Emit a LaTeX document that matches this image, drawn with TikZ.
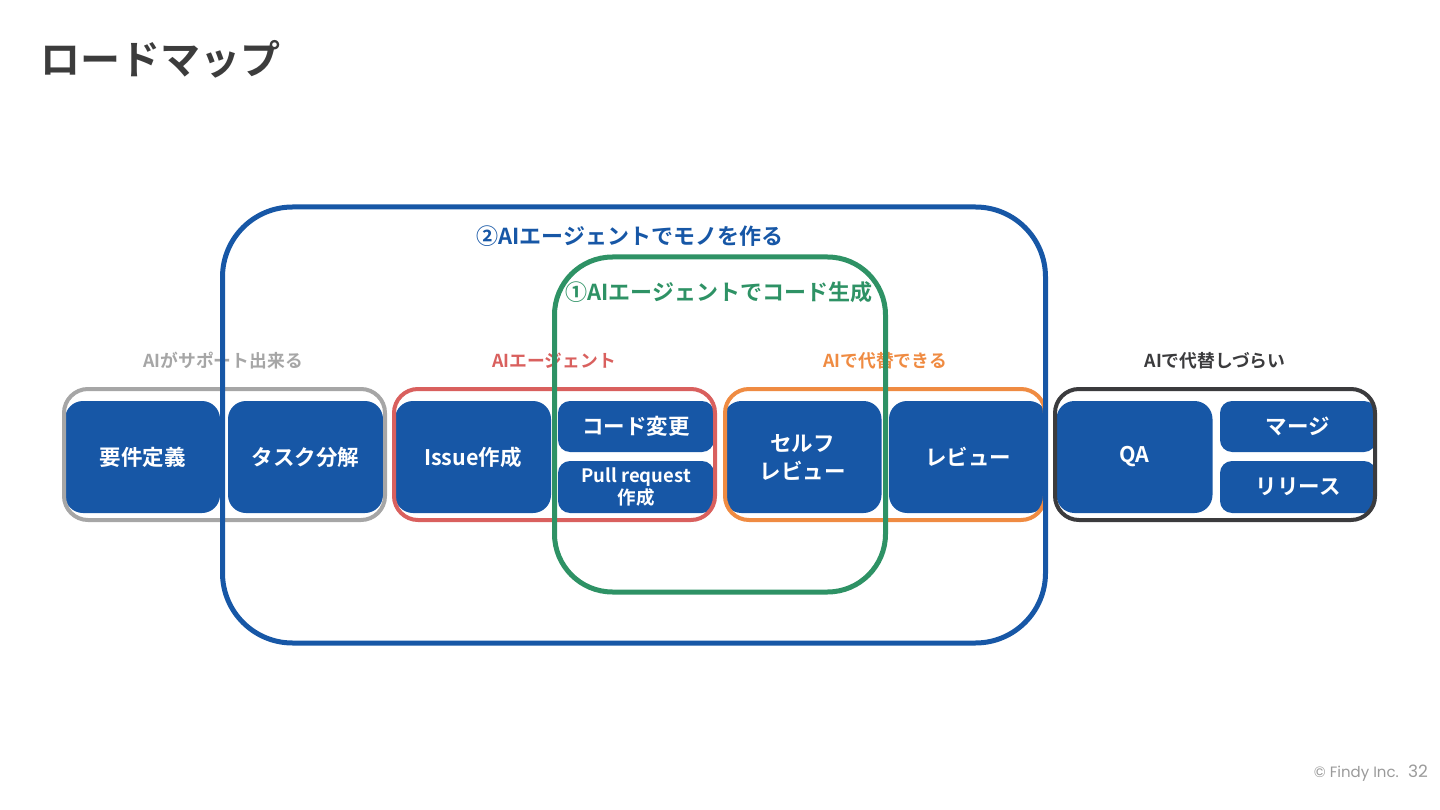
\documentclass[tikz,border=0pt]{standalone}
\usepackage{fontspec}
\setmainfont{Noto Sans CJK JP}[BoldFont={* Bold}]
\newfontfamily\jpb{Noto Sans CJK JP Bold}
\newfontfamily\footfont{Poppins}
\definecolor{cblue}{HTML}{1757A6}
\definecolor{cgreen}{HTML}{2E9265}
\definecolor{cred}{HTML}{D9605E}
\definecolor{corange}{HTML}{EF8B42}
\definecolor{cgray}{HTML}{A6A6A6}
\definecolor{cdark}{HTML}{3B3B3D}
\definecolor{ctitle}{HTML}{3C3C3C}
\definecolor{cfoot}{HTML}{9A9A9A}
\tikzset{
  stage/.style={fill=cblue, rounded corners=18pt, inner sep=0pt, text=white,
    font=\jpb\fontsize{21.5}{25}\selectfont, align=center},
  grp/.style={draw=#1, line width=4pt, rounded corners=24pt, inner sep=0pt},
  grplabel/.style={text=#1, font=\jpb\fontsize{17.8}{20}\selectfont, inner sep=0pt},
  bigframe/.style={draw=#1, line width=5pt, inner sep=0pt},
  biglabel/.style={text=#1, font=\jpb\fontsize{22}{26}\selectfont, inner sep=0pt}
}
\begin{document}
\begin{tikzpicture}[x=1pt,y=-1pt]
\useasboundingbox (0,0) rectangle (1440,810);
% title
\node[anchor=west, inner sep=0pt, text=ctitle, font=\jpb\fontsize{40}{46}\selectfont] (title) at (40,59) {ロードマップ};
% stage boxes
\node[stage, minimum width=155pt, minimum height=112pt] (req) at (142.5,457) {要件定義};
\node[stage, minimum width=155pt, minimum height=112pt] (task) at (305.5,457) {タスク分解};
\node[stage, minimum width=156pt, minimum height=112pt] (issue) at (473,457) {Issue作成};
\node[stage, minimum width=156pt, minimum height=51pt, rounded corners=12pt] (code) at (636,426.5) {コード変更};
\node[stage, minimum width=156pt, minimum height=52pt, rounded corners=12pt, font=\jpb\fontsize{18.5}{22}\selectfont] (pr) at (636,487) {Pull request\\作成};
\node[stage, minimum width=158pt, minimum height=112pt, font=\jpb\fontsize{21.5}{28}\selectfont] (self) at (802.5,457) {セルフ\\レビュー};
\node[stage, minimum width=158pt, minimum height=112pt] (review) at (968,457) {レビュー};
\node[stage, minimum width=156pt, minimum height=112pt] (qa) at (1134.5,457) {QA};
\node[stage, minimum width=156pt, minimum height=51pt, rounded corners=12pt] (merge) at (1298,426.5) {マージ};
\node[stage, minimum width=156pt, minimum height=52pt, rounded corners=12pt] (release) at (1298,487) {リリース};
% group frames
\node[grp=cgray, minimum width=321pt, minimum height=131pt] (gsup) at (224.5,454.5) {};
\node[grp=cred, minimum width=321pt, minimum height=131pt] (gagent) at (554.5,454.5) {};
\node[grp=corange, minimum width=320pt, minimum height=131pt] (galt) at (885,454.5) {};
\node[grp=cdark, minimum width=320pt, minimum height=131pt] (ghard) at (1215,454.5) {};
% group labels
\node[grplabel=cgray] (lsup) at (223,361) {AIがサポート出来る};
\node[grplabel=cred] (lagent) at (554,361) {AIエージェント};
\node[grplabel=corange] (lalt) at (885,361) {AIで代替できる};
\node[grplabel=cdark] (lhard) at (1215,361) {AIで代替しづらい};
% big frames
\node[bigframe=cblue, rounded corners=70pt, minimum width=823pt, minimum height=436pt] (fmake) at (634,425) {};
\node[bigframe=cgreen, rounded corners=58pt, minimum width=331pt, minimum height=335pt] (fcode) at (720,424.5) {};
\node[biglabel=cblue] (lmake) at (630,236) {②AIエージェントでモノを作る};
\node[biglabel=cgreen] (lcode) at (719,292) {①AIエージェントでコード生成};
% footer
\node[anchor=base east, inner sep=0pt, text=cfoot, font=\footfont\fontsize{15}{17}\selectfont] (foot) at (1399,777) {© Findy Inc.};
\node[anchor=base west, inner sep=0pt, text=cfoot, font=\footfont\fontsize{17}{20}\selectfont] (page) at (1408,777) {32};
\end{tikzpicture}
\end{document}
